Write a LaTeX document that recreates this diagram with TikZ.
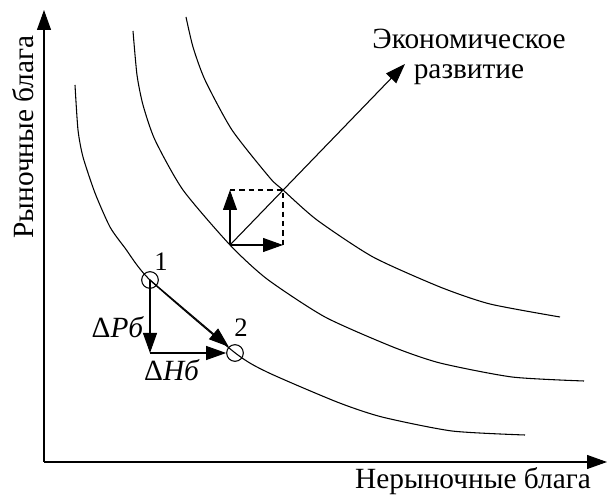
\documentclass[tikz,border=0pt]{standalone}
\usepackage{fontspec}
\setmainfont{Liberation Serif}
\usetikzlibrary{arrows.meta}

\begin{document}
\begin{tikzpicture}[x=0.75pt, y=-0.75pt, line width=0.8pt,
  font=\fontsize{22}{22}\selectfont,
  arr/.style={-{Triangle[length=15pt,width=10.5pt]}},
  pnt/.style={circle, draw, inner sep=0pt, minimum size=12.5pt},
  num/.style={font=\fontsize{20}{20}\selectfont}]
  \useasboundingbox (0,0) rectangle (608,495);
  % Axes
  \coordinate (O) at (44,462);
  \coordinate (ytip) at (44,10);
  \coordinate (xtip) at (607,462);
  \draw[arr] (O) -- (ytip);
  \draw[arr] (O) -- (xtip);
  \node[rotate=90] (ylab) at (23,137) {Рыночные блага};
  \node (xlab) at (473,481) {Нерыночные блага};
  % Indifference curves
  \draw[smooth, tension=0.4] plot coordinates {(75,85) (78,130) (83,157) (95,193)
    (110,227) (125,248) (150,280) (234,352) (267,372) (337,402) (382,417)
    (452,431) (525,435)};
  \draw[smooth, tension=0.4] plot coordinates {(133,31) (137,75) (143,105) (155,140)
    (183,190) (230,245) (267,279) (325,317) (393,347) (440,363) (512,377) (584,381)};
  \draw[smooth, tension=0.4] plot coordinates {(186,17) (193,47) (205,80) (232,130)
    (270,178) (283,190) (317,220) (373,257) (440,287) (490,304) (560,317)};
  % Economic development
  \coordinate (o) at (230,245);
  \coordinate (c) at (283,190);
  \coordinate (up) at (230,190);
  \coordinate (rt) at (283,245);
  \coordinate (dev) at (405,64);
  \draw[arr] (o) -- (dev);
  \draw[arr] (o) -- (up);
  \draw[arr] (o) -- (rt);
  \draw[dashed, dash pattern=on 4pt off 3pt] (up) -- (c) -- (rt);
  \node[align=center] (devlab) at (469,57) {Экономическое\\развитие};
  % Points 1 and 2
  \node[pnt] (p1) at (150,280) {};
  \node[pnt] (p2) at (235,353) {};
  \node[num] (n1) at (161,262) {1};
  \node[num] (n2) at (241,328) {2};
  \coordinate (k) at (150,353);
  \draw[arr] (p1.center) -- (k);
  \draw[arr] (k) -- (p2.west);
  \draw[arr] (p1.center) -- (p2.north west);
  \node[anchor=east] (dp) at (149,327) {Δ\textit{Рб}};
  \node (dh) at (172,370) {Δ\textit{Нб}};
\end{tikzpicture}
\end{document}
